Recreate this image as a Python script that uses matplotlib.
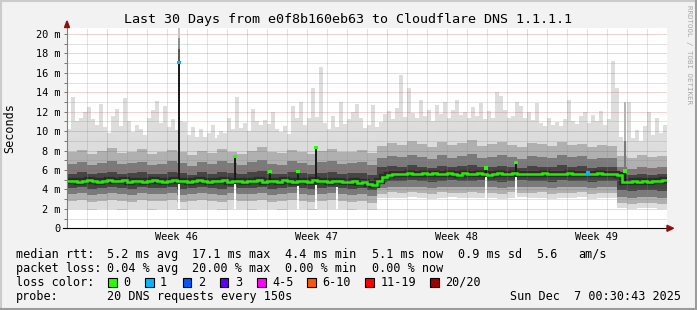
import numpy as np
import matplotlib.pyplot as plt
from matplotlib.patches import Rectangle, Polygon
from matplotlib.lines import Line2D

plt.rcParams['font.family'] = ['DejaVu Sans Mono']

W, H = 697, 310

# time axis in days since Nov 7 00:00 (graph ends Dec 7 00:30)
t_start, t_end = 0.02, 30.02

# highest pings of each sample (ms), 150 bins of 0.2 day
top_ms = [
    10.2, 13.5, 11.0, 11.4, 12.0, 12.5, 11.2, 10.6, 12.8, 10.4,
    9.8, 11.6, 12.3, 10.5, 13.4, 11.0, 9.9, 10.6, 10.2, 9.6,
    11.3, 12.2, 13.1, 10.8, 12.6, 10.4, 11.2, 10.1, 11.0, 10.9,
    9.6, 10.4, 9.4, 10.2, 9.2, 9.8, 10.6, 9.3, 10.0, 9.8,
    11.4, 10.2, 13.5, 10.3, 10.8, 10.0, 12.3, 11.0, 10.6, 11.1,
    10.7, 12.0, 10.2, 9.9, 10.5, 9.7, 12.6, 11.3, 13.0, 10.6,
    11.4, 14.4, 11.5, 16.6, 10.8, 10.2, 11.6, 10.4, 13.0, 10.7,
    11.2, 12.0, 12.8, 11.4, 10.3, 10.6, 12.7, 10.4, 10.9, 11.8,
    12.1, 11.2, 12.4, 15.8, 11.5, 14.4, 11.9, 11.3, 13.2, 11.6,
    12.2, 11.0, 12.7, 11.8, 13.0, 11.4, 12.2, 13.2, 11.7, 12.0,
    11.3, 12.5, 11.6, 12.9, 11.2, 12.1, 11.4, 14.0, 13.6, 12.2,
    11.3, 11.6, 13.0, 12.6, 11.3, 12.0, 11.1, 12.9, 10.8, 10.5,
    11.4, 10.6, 10.9, 10.4, 11.2, 13.2, 11.0, 10.7, 11.6, 12.0,
    10.8, 11.7, 11.0, 12.1, 10.6, 11.2, 17.2, 14.4, 9.4, 9.0,
    13.0, 9.3, 10.1, 9.0, 10.5, 12.0, 9.6, 11.4, 9.8, 10.6,
]

# smoke bands (ms), 60 bins of 0.5 day
up3_ms = [
    9.2, 9.5, 9.0, 9.4, 9.6, 9.1, 9.3, 9.5, 9.0, 9.3, 9.6, 9.2, 8.9, 9.4, 9.1, 9.6,
    9.3, 9.0, 9.4, 9.8, 9.2, 9.1, 9.5, 9.3, 9.0, 9.4, 9.6, 9.2, 9.3, 9.5, 9.1,
    10.0, 10.4, 10.2, 10.6, 10.3, 9.9, 10.5, 10.2, 10.4, 10.7, 10.1, 10.3, 10.5, 10.2,
    9.9, 10.4, 10.3, 10.0, 10.5, 10.2, 10.3, 9.9, 10.1, 10.0,
    8.7, 8.5, 8.8, 8.6, 8.7,
]
up2_ms = [
    7.8, 8.1, 7.6, 8.0, 8.3, 7.7, 7.9, 8.2, 7.6, 7.9, 8.1, 7.8, 7.5, 8.0, 7.7, 8.2,
    7.9, 7.6, 8.0, 8.4, 7.8, 7.7, 8.1, 7.9, 7.6, 8.0, 8.2, 7.8, 7.9, 8.1, 7.7,
    8.5, 8.8, 8.6, 9.0, 8.7, 8.4, 8.9, 8.6, 8.8, 9.1, 8.5, 8.7, 8.9, 8.6, 8.4, 8.8,
    8.7, 8.5, 8.9, 8.6, 8.7, 8.4, 8.6, 8.5,
    7.4, 7.2, 7.5, 7.3, 7.4,
]
up1_ms = [
    6.6, 6.8, 6.5, 6.7, 6.9, 6.6, 6.7, 6.8, 6.5, 6.6, 6.9, 6.7, 6.4, 6.8, 6.6, 6.9,
    6.7, 6.5, 6.8, 7.0, 6.6, 6.5, 6.9, 6.7, 6.5, 6.8, 6.9, 6.6, 6.7, 6.8, 6.5,
    7.2, 7.4, 7.3, 7.5, 7.3, 7.1, 7.5, 7.2, 7.4, 7.6, 7.2, 7.3, 7.5, 7.3, 7.1, 7.4,
    7.3, 7.2, 7.5, 7.3, 7.4, 7.1, 7.2, 7.2,
    6.3, 6.1, 6.3, 6.2, 6.3,
]
up0_ms = [
    5.6, 5.8, 5.6, 5.7, 5.8, 5.6, 5.7, 5.8, 5.6, 5.6, 5.8, 5.7, 5.5, 5.8, 5.6, 5.8,
    5.7, 5.6, 5.8, 5.9, 5.6, 5.6, 5.8, 5.7, 5.6, 5.7, 5.8, 5.6, 5.7, 5.7, 5.5,
    6.3, 6.4, 6.3, 6.5, 6.3, 6.2, 6.4, 6.3, 6.4, 6.5, 6.3, 6.3, 6.4, 6.3, 6.2, 6.4,
    6.3, 6.3, 6.5, 6.3, 6.4, 6.2, 6.3, 6.3,
    5.6, 5.5, 5.6, 5.5, 5.6,
]
lo0_ms = [
    4.1, 4.2, 4.0, 4.1, 4.2, 4.1, 4.0, 4.2, 4.1, 4.1, 4.2, 4.0, 4.1, 4.2, 4.1, 4.0,
    4.2, 4.1, 4.1, 4.2, 4.0, 4.1, 4.2, 4.1, 4.0, 4.1, 4.2, 4.1, 4.0, 4.1, 3.9,
    4.8, 4.9, 4.9, 5.0, 4.9, 4.8, 4.9, 5.0, 4.9, 4.9, 5.0, 4.9, 4.8, 4.9, 5.0, 4.9,
    4.9, 4.8, 5.0, 4.9, 4.9, 4.8, 4.9, 4.9,
    3.9, 3.8, 3.9, 3.9, 3.8,
]
lo1_ms = [
    3.5, 3.6, 3.4, 3.5, 3.6, 3.5, 3.4, 3.6, 3.5, 3.5, 3.6, 3.4, 3.5, 3.6, 3.5, 3.4,
    3.6, 3.5, 3.5, 3.6, 3.4, 3.5, 3.6, 3.5, 3.4, 3.5, 3.6, 3.5, 3.4, 3.5, 3.3,
    4.1, 4.3, 4.2, 4.3, 4.2, 4.1, 4.3, 4.2, 4.2, 4.3, 4.2, 4.2, 4.1, 4.3, 4.2, 4.2,
    4.3, 4.1, 4.2, 4.2, 4.3, 4.1, 4.2, 4.2,
    3.2, 3.1, 3.2, 3.2, 3.1,
]
lo2_ms = [
    2.8, 2.9, 2.7, 2.8, 2.9, 2.8, 2.7, 2.9, 2.8, 2.8, 2.9, 2.7, 2.8, 2.9, 2.8, 2.7,
    2.9, 2.8, 2.8, 2.9, 2.7, 2.8, 2.9, 2.8, 2.7, 2.8, 2.9, 2.8, 2.7, 2.8, 2.6,
    3.5, 3.7, 3.6, 3.7, 3.6, 3.5, 3.7, 3.6, 3.6, 3.7, 3.6, 3.6, 3.5, 3.7, 3.6, 3.6,
    3.7, 3.5, 3.6, 3.6, 3.7, 3.5, 3.6, 3.6,
    2.6, 2.5, 2.6, 2.6, 2.5,
]
bottom_ms = [
    2.0, 2.0, 1.9, 2.0, 2.0, 1.9, 2.0, 2.0, 1.9, 2.0, 2.0, 1.9, 2.0, 2.0, 2.0, 1.9,
    2.0, 2.0, 1.9, 2.0, 2.0, 1.9, 2.0, 2.0, 1.9, 2.0, 2.0, 2.0, 1.9, 2.0, 1.9,
    3.1, 3.1, 3.1, 3.2, 3.1, 3.0, 3.1, 3.2, 3.1, 3.1, 3.1, 3.1, 3.0, 3.1, 3.2, 3.1,
    3.1, 3.0, 3.1, 3.1, 3.2, 3.0, 3.1, 3.1,
    2.1, 2.0, 2.1, 2.1, 2.0,
]

# median rtt (ms), 120 bins of 0.25 day
median_ms = [
    4.85, 4.90, 4.80, 4.90, 4.95, 4.85, 4.80, 4.90, 5.00, 4.90,
    4.85, 4.95, 4.80, 4.90, 4.85, 4.75, 4.90, 4.95, 4.85, 4.80,
    4.90, 5.00, 4.85, 4.90, 4.80, 4.85, 4.95, 4.90, 4.80, 4.90,
    4.85, 4.95, 4.80, 4.90, 4.85, 4.75, 4.90, 4.85, 4.95, 4.80,
    4.90, 4.85, 4.80, 4.95, 4.90, 4.75, 4.85, 4.90, 4.80, 4.95,
    4.85, 4.90, 4.80, 4.85, 4.90, 4.80, 4.75, 4.85, 4.70, 4.80,
    4.60, 4.50,
    4.90, 5.30, 5.50, 5.60, 5.55, 5.60, 5.70, 5.60, 5.55, 5.65,
    5.60, 5.70, 5.60, 5.55, 5.70, 5.60, 5.50, 5.65, 5.60, 5.55,
    5.70, 5.60, 5.50, 5.60, 5.65, 5.55, 5.60, 5.70, 5.60, 5.60,
    5.55, 5.60, 5.60, 5.65, 5.60, 5.60, 5.55, 5.60, 5.65, 5.60,
    5.60, 5.55, 5.60, 5.60, 5.65, 5.60, 5.55, 5.60, 5.50,
    4.80, 4.75, 4.85, 4.80, 4.90, 4.80, 4.85, 4.90, 4.95,
]

# single-sample median spikes
spike_day = [5.62, 8.42, 10.17, 11.57, 12.47, 20.97, 22.47, 27.92]
spike_ms = [17.1, 7.4, 5.8, 5.8, 8.3, 6.2, 6.8, 5.9]
spike_base = [4.7, 4.7, 4.9, 4.9, 4.7, 5.5, 5.5, 4.8]
spike_loss = [1, 0, 0, 0, 0, 0, 0, 0]

# grey smear above spikes
smear_day = [5.62, 5.62, 5.62, 27.92, 27.92]
smear_lo = [17.1, 18.4, 19.6, 5.9, 9.0]
smear_hi = [18.4, 19.6, 20.66, 9.0, 13.0]
smear_col = ['#5a5a5a', '#8e8e8e', '#c4c4c4', '#7a7a7a', '#b4b4b4']

# white gaps under spikes
gap_day = [5.62, 8.42, 11.57, 12.47, 13.52, 20.97, 22.47]
gap_lo = [2.0, 2.0, 2.0, 2.0, 2.0, 3.1, 3.1]
gap_hi = [4.6, 4.6, 4.4, 4.5, 4.3, 5.3, 5.3]

# loss marker on median
loss_day = [26.07]
loss_ms = [5.65]

week_mid = [5.5, 12.5, 19.5, 26.5]
week_labels = ['Week 46', 'Week 47', 'Week 48', 'Week 49']
week_edges = [2, 9, 16, 23, 30]
y_ticks = [0, 2, 4, 6, 8, 10, 12, 14, 16, 18, 20]
y_labels = ['0', '2 m', '4 m', '6 m', '8 m', '10 m', '12 m', '14 m', '16 m', '18 m', '20 m']

loss_names = ['0', '1', '2', '3', '4-5', '6-10', '11-19', '20/20']
loss_colors = ['#26ff00', '#00b8ff', '#0059ff', '#5e00ff', '#ff00ff', '#ff5500', '#ff0000', '#a00000']


def fx(x):
    return x / W


def fy(y):
    return 1 - y / H


fig = plt.figure(figsize=(W / 100, H / 100), dpi=100, facecolor='#f2f2f2')
ax = fig.add_axes([fx(67), fy(228.3), 600 / W, (228.3 - 27.5) / H])
ax.set_facecolor('white')

e150 = t_start + 0.2 * np.arange(len(top_ms) + 1)
e60 = t_start + 0.5 * np.arange(len(up2_ms) + 1)
e120 = t_start + 0.25 * np.arange(len(median_ms) + 1)

# smoke
ax.bar(e150[:-1] + 0.1, top_ms, width=0.17, color='#dddddd', lw=0)
ax.stairs(up3_ms, e60, baseline=0, fill=True, color='#dcdcdc', lw=0)
ax.stairs(up2_ms, e60, baseline=lo2_ms, fill=True, color='#b0b0b0', lw=0)
ax.stairs(up1_ms, e60, baseline=lo1_ms, fill=True, color='#7a7a7a', lw=0)
ax.stairs(up0_ms, e60, baseline=lo0_ms, fill=True, color='#454545', lw=0)
ax.stairs(bottom_ms, e60, baseline=0, fill=True, color='white', lw=0)
ax.stairs(median_ms, e120, baseline=None, color='#2c2c2c', lw=4.5, zorder=1.5)

ax.bar(gap_day, np.array(gap_hi) - np.array(gap_lo), bottom=gap_lo, width=0.1,
       color='white', lw=0, zorder=2)
ax.bar(smear_day, np.array(smear_hi) - np.array(smear_lo), bottom=smear_lo, width=0.12,
       color=smear_col, lw=0, zorder=3)
ax.bar(spike_day, np.array(spike_ms) - np.array(spike_base), bottom=spike_base, width=0.12,
       color='#1c1c1c', lw=0, zorder=3)

# median line
ax.stairs(median_ms, e120, baseline=None, color='#22ee00', lw=1.8, zorder=4)
ax.scatter(spike_day, spike_ms, marker='s', s=5,
           c=[loss_colors[i] for i in spike_loss], lw=0, zorder=5)
ax.scatter(loss_day, loss_ms, marker='s', s=5, c=loss_colors[1], lw=0, zorder=5)

ax.set_xlim(t_start, t_end)
ax.set_ylim(0, 20.66)
ax.set_xticks(week_edges)
ax.set_xticks(np.arange(1, 31), minor=True)
ax.set_yticks(y_ticks)
ax.set_yticklabels(y_labels)
ax.set_yticks(np.arange(1, 21, 2), minor=True)
ax.tick_params(axis='x', which='both', length=0, labelbottom=False)
ax.tick_params(axis='y', which='both', length=2, width=0.7, color='#777777',
               pad=2.6, labelsize=7.4)
ax.set_axisbelow(False)
ax.grid(which='major', color='#c04040', alpha=0.45, ls=(0, (1, 1)), lw=0.72)
ax.grid(which='minor', color='#8c8c8c', alpha=0.5, ls=(0, (1, 1)), lw=0.72)

for s in ['top', 'right']:
    ax.spines[s].set_visible(False)
ax.spines['left'].set_color('#808080')
ax.spines['left'].set_linewidth(0.8)
ax.spines['bottom'].set_color('black')
ax.spines['bottom'].set_linewidth(0.8)

# axis arrows
fig.add_artist(Polygon([(fx(64.5), fy(27.5)), (fx(69.5), fy(27.5)), (fx(67), fy(21))],
                       closed=True, color='#8c1010', transform=fig.transFigure))
fig.add_artist(Polygon([(fx(667), fy(225.3)), (fx(667), fy(231.3)), (fx(673.5), fy(228.3))],
                       closed=True, color='#8c1010', transform=fig.transFigure))
fig.add_artist(Line2D([fx(63), fx(67)], [fy(228.3), fy(228.3)], color='black', lw=0.8))

for c, lab in zip(week_mid, week_labels):
    fig.text(fx(67 + (c - t_start) * 20), fy(237.5), lab, ha='center', va='center', fontsize=7.4)

fig.text(fx(348.5), fy(19), 'Last 30 Days from e0f8b160eb63 to Cloudflare DNS 1.1.1.1',
         ha='center', va='center', fontsize=9.6)
fig.text(fx(10), fy(128), 'Seconds', rotation=90, ha='center', va='center', fontsize=8.5)
fig.text(fx(688.5), fy(5), 'RRDTOOL / TOBI OETIKER', rotation=270, ha='center', va='top',
         fontsize=5.4, color='#a8a8a8')

# legend
rows = [254.3, 268.3, 282.3, 296.3]
line1 = [('median rtt:', 16), ('5.2 ms avg', 107), ('17.1 ms max', 192), ('4.4 ms min', 285),
         ('5.1 ms now', 371.5), ('0.9 ms sd', 458.5), ('5.6', 536.5), ('am/s', 578.5)]
line2 = [('packet loss:', 16), ('0.04 % avg', 107), ('20.00 % max', 192), ('0.00 % min', 285),
         ('0.00 % now', 371.5)]
for row, items in zip(rows[:2], [line1, line2]):
    for s, x in items:
        fig.text(fx(x), fy(row), s, ha='left', va='center', fontsize=8.5)

fig.text(fx(16), fy(rows[2]), 'loss color:', ha='left', va='center', fontsize=8.5)
sq_x = [108, 145, 182.7, 220, 257, 307, 365.3, 430]
for x, name, col in zip(sq_x, loss_names, loss_colors):
    fig.add_artist(Rectangle((fx(x), fy(rows[2] + 4.5)), 8.5 / W, 9 / H, facecolor=col,
                             edgecolor='black', lw=0.8, transform=fig.transFigure))
    fig.text(fx(x + 15), fy(rows[2]), name, ha='left', va='center', fontsize=8.5)

fig.text(fx(16), fy(rows[3]), 'probe:', ha='left', va='center', fontsize=8.5)
fig.text(fx(107), fy(rows[3]), '20 DNS requests every 150s', ha='left', va='center', fontsize=8.5)
fig.text(fx(681), fy(rows[3]), 'Sun Dec  7 00:30:43 2025', ha='right', va='center', fontsize=8.5)

# frame shading
fig.add_artist(Line2D([0, 1], [fy(1), fy(1)], color='#cbcbcb', lw=1.5))
fig.add_artist(Line2D([fx(1), fx(1)], [0, 1], color='#cbcbcb', lw=1.5))
fig.add_artist(Line2D([0, 1], [fy(308.5), fy(308.5)], color='#9c9c9c', lw=2.2))
fig.add_artist(Line2D([fx(695.5), fx(695.5)], [0, 1], color='#9c9c9c', lw=2.2))

fig.savefig('out.png', dpi=100, facecolor=fig.get_facecolor())
